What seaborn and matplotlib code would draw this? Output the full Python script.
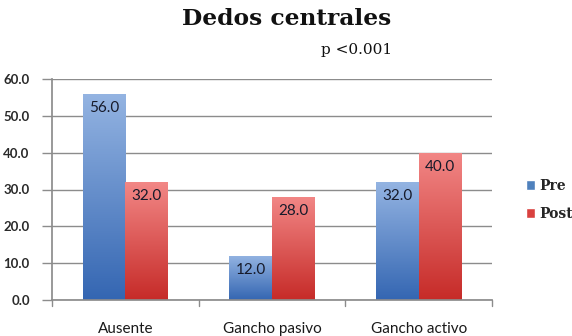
import matplotlib
matplotlib.use("Agg")
import matplotlib.pyplot as plt
import seaborn as sns
import pandas as pd
import numpy as np
from matplotlib.colors import LinearSegmentedColormap
from matplotlib.patches import Patch

categories = ["Ausente", "Gancho pasivo", "Gancho activo"]
series = ["Pre", "Post"]
pre_values = [56.0, 12.0, 32.0]
post_values = [32.0, 28.0, 40.0]
yticks = [0, 10, 20, 30, 40, 50, 60]

df = pd.DataFrame({
    "cat": categories * 2,
    "serie": ["Pre"] * 3 + ["Post"] * 3,
    "val": pre_values + post_values,
})

sns.set_theme(style="white")
plt.rcParams['font.family'] = ['Lato', 'DejaVu Sans']

W, H = 572, 336
fig = plt.figure(figsize=(W / 100, H / 100), dpi=100)
ax = fig.add_axes([52 / W, 1 - 300 / H, 440 / W, 221 / H])

palette = {"Pre": "#4f81bd", "Post": "#d9413f"}
sns.barplot(data=df, x="cat", y="val", hue="serie", order=categories,
            hue_order=series, palette=palette, width=0.58, ax=ax,
            legend=True, saturation=1)

gcol = '#8c8c8c'
ax.set_ylim(0, 60)
ax.set_xlim(-0.5, 2.5)
ax.set_yticks(yticks)
ax.set_yticklabels([f"{v:.1f}" for v in yticks], fontsize=9.5, fontweight='bold', color='#2a2a2a')
ax.set_xlabel("")
ax.set_ylabel("")
ax.tick_params(axis='x', labelsize=11, colors='#1a1a1a', pad=10)
ax.yaxis.grid(True, color=gcol, linewidth=1.0)
ax.set_axisbelow(True)
for s in ["top", "right"]:
    ax.spines[s].set_visible(False)
ax.spines["left"].set_color(gcol)
ax.spines["bottom"].set_color(gcol)
ax.tick_params(axis='y', left=True, length=7, color=gcol, pad=9, width=1.0)
ax.tick_params(axis='x', bottom=False)
for xb in [-0.5, 0.5, 1.5, 2.5]:
    ax.plot([xb, xb], [0, -1.5], color=gcol, lw=1.0, clip_on=False)

grads = {
    "Pre": LinearSegmentedColormap.from_list("b", ["#3466b2", "#94b4e2"]),
    "Post": LinearSegmentedColormap.from_list("r", ["#c62b28", "#f28786"]),
}
grad = np.linspace(0, 1, 256).reshape(-1, 1)
for cont, name in zip(ax.containers, series):
    for patch, v in zip(cont.patches, cont.datavalues):
        x0, y0 = patch.get_x(), patch.get_y()
        w, h = patch.get_width(), patch.get_height()
        im = ax.imshow(grad, cmap=grads[name], origin='lower', aspect='auto',
                       extent=[x0, x0 + w, y0, y0 + h], zorder=2)
        im.set_clip_path(patch)
        patch.set_facecolor('none')
        patch.set_edgecolor('none')
        ax.text(x0 + w / 2, v - 2.0, f"{v:.1f}", ha='center', va='top',
                fontsize=11, color='#161a2a', zorder=5)
ax.set_xlim(-0.5, 2.5)
ax.set_ylim(0, 60)

ax.get_legend().remove()
handles = [Patch(facecolor="#4f81bd"), Patch(facecolor="#d9413f")]
fig.legend(handles, series, loc='center left', bbox_to_anchor=(513 / W, 1 - 200 / H),
           frameon=False, handlelength=0.7, handleheight=0.7, handletextpad=0.3,
           labelspacing=1.0, prop={'family': 'DejaVu Serif', 'weight': 'bold', 'size': 10})

fig.text(287 / W, 1 - 19 / H, "Dedos centrales", ha='center', va='center',
         fontsize=16.8, fontweight='bold', family='DejaVu Serif', color='#111111')
fig.text(392 / W, 1 - 50 / H, "p <0.001", ha='right', va='center',
         fontsize=11, family='DejaVu Serif', color='#111111')

fig.savefig("out.png", dpi=100)
